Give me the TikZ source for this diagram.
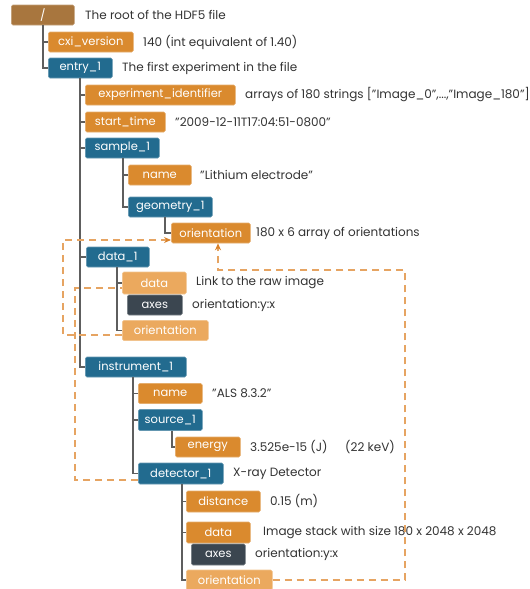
\documentclass[tikz,border=0pt]{standalone}
\usepackage{fontspec}
\setmainfont{Poppins}
\usetikzlibrary{arrows.meta,calc}
\definecolor{cbrown}{HTML}{A8763E}
\definecolor{corange}{HTML}{DA8A2E}
\definecolor{cblue}{HTML}{226B8F}
\definecolor{clight}{HTML}{EBA95E}
\definecolor{cdark}{HTML}{3B4650}
\definecolor{ctext}{HTML}{333333}
\definecolor{cline}{HTML}{5E5E5E}
\definecolor{cdash}{HTML}{E6A462}
\definecolor{carrow}{HTML}{D9822B}
\begin{document}
\begin{tikzpicture}[x=1pt,y=-1pt,
  box/.style={anchor=west,minimum height=20pt,inner sep=0pt,rounded corners=1.5pt,
    text=white,font=\fontsize{11.5}{12}\selectfont,line width=0.6pt},
  brownbox/.style={box,fill=cbrown,draw=cbrown!70!white},
  orbox/.style={box,fill=corange,draw=corange!70!white},
  bluebox/.style={box,fill=cblue,draw=cblue!70!white},
  ltbox/.style={box,fill=clight,draw=clight!70!white},
  dkbox/.style={box,fill=cdark,draw=cdark!70!white},
  desc/.style={anchor=west,inner sep=0pt,text=ctext,font=\fontsize{12}{13}\selectfont},
  tree/.style={draw=cline,line width=1.1pt},
  link/.style={draw=cdash,line width=1.3pt,dash pattern=on 7pt off 5pt},
  tip/.style={-{Stealth[length=7pt,width=6pt,color=carrow]}}
]
\useasboundingbox (0,0) rectangle (530,589);
% nodes
\node[brownbox,minimum width=63pt] (root) at (11,15) {/};
\node[desc] (droot) at (85,15) {The root of the HDF5 file};
\node[orbox,minimum width=85pt] (cxi) at (48,42) {cxi\_version};
\node[desc] (dcxi) at (143,42) {140 (int equivalent of 1.40)};
\node[bluebox,minimum width=64pt] (entry) at (48,68) {entry\_1};
\node[desc] (dentry) at (122,68) {The first experiment in the file};
\node[orbox,minimum width=150pt] (expid) at (85,95) {experiment\_identifier};
\node[desc] (dexpid) at (245,95) {arrays of 180 strings ["Image\_0",...,"Image\_180"]};
\node[orbox,minimum width=80pt] (start) at (85,122) {start\_time};
\node[desc] (dstart) at (175,122) {"2009-12-11T17:04:51-0800"};
\node[bluebox,minimum width=74pt] (sample) at (85,148) {sample\_1};
\node[orbox,minimum width=63pt] (sname) at (128,175) {name};
\node[desc] (dsname) at (200,175) {"Lithium electrode"};
\node[bluebox,minimum width=84pt] (geom) at (128,207) {geometry\_1};
\node[orbox,minimum width=79pt] (sorient) at (171,233) {orientation};
\node[desc] (dsorient) at (256,233) {180 x 6 array of orientations};
\node[bluebox,minimum width=63pt] (data1) at (86,257) {data\_1};
\node[ltbox,minimum width=64pt,minimum height=22pt] (ddata) at (122,283) {data};
\node[desc] (dddata) at (196,283) {Link to the raw image};
\node[dkbox,minimum width=55pt] (daxes) at (127,305) {axes};
\node[desc] (ddaxes) at (192,305) {orientation:y:x};
\node[ltbox,minimum width=86pt] (dorient) at (122,330.5) {orientation};
\node[bluebox,minimum width=101pt] (instr) at (85,367) {instrument\_1};
\node[orbox,minimum width=64pt] (iname) at (138,393.5) {name};
\node[desc] (diname) at (212,393.5) {"ALS 8.3.2"};
\node[bluebox,minimum width=64pt,minimum height=21pt] (source) at (138,420) {source\_1};
\node[orbox,minimum width=65pt] (energy) at (175,447) {energy};
\node[desc] (denergy) at (250,447) {3.525e-15 (J)};
\node[desc] (denergy2) at (345,447) {(22 keV)};
\node[bluebox,minimum width=85pt,minimum height=21pt] (detector) at (138,473.5) {detector\_1};
\node[desc] (ddetector) at (233,473.5) {X-ray Detector};
\node[orbox,minimum width=74pt,minimum height=21pt] (distance) at (186,501.5) {distance};
\node[desc] (ddistance) at (270,501.5) {0.15 (m)};
\node[orbox,minimum width=64pt,minimum height=21pt] (tdata) at (186,532.5) {data};
\node[desc] (dtdata) at (263,532.5) {Image stack with size 180 x 2048 x 2048};
\node[dkbox,minimum width=54pt,minimum height=21pt] (taxes) at (191,554.5) {axes};
\node[desc] (dtaxes) at (255,554.5) {orientation:y:x};
\node[ltbox,minimum width=86pt] (torient) at (186,580) {orientation};
% tree lines
\draw[tree] ([xshift=32pt]root.south west) |- (cxi.west);
\draw[tree] ([xshift=32pt]root.south west) |- (entry.west);
\draw[tree] ([xshift=32pt]entry.south west) |- (expid.west);
\draw[tree] ([xshift=32pt]entry.south west) |- (start.west);
\draw[tree] ([xshift=32pt]entry.south west) |- (sample.west);
\draw[tree] ([xshift=32pt]entry.south west) |- (data1.west);
\draw[tree] ([xshift=32pt]entry.south west) |- (instr.west);
\draw[tree] ([xshift=38pt]sample.south west) |- (sname.west);
\draw[tree] ([xshift=38pt]sample.south west) |- (geom.west);
\draw[tree] ([xshift=37pt]geom.south west) |- (sorient.west);
\draw[tree] ([xshift=31pt]data1.south west) |- (ddata.west);
\draw[tree] ([xshift=31pt]data1.south west) |- (dorient.west);
\draw[tree] ([xshift=48pt]instr.south west) |- (iname.west);
\draw[tree] ([xshift=48pt]instr.south west) |- (source.west);
\draw[tree] ([xshift=48pt]instr.south west) |- (detector.west);
\draw[tree] ([xshift=34pt]source.south west) |- (energy.west);
\draw[tree] ([xshift=44pt]detector.south west) |- (distance.west);
\draw[tree] ([xshift=44pt]detector.south west) |- (tdata.west);
\draw[tree] ([xshift=44pt]detector.south west) |- (torient.west);
% links
\coordinate (l1) at (63,240);
\coordinate (l2) at (75,288);
\coordinate (l3) at (405,270);
\draw[link,tip] ([yshift=-4.5pt]dorient.west) -| (l1) -- ([yshift=-7pt]sorient.west);
\draw[link] ([yshift=-6.5pt]detector.west) -| (l2) -- ([yshift=-5pt]ddata.west);
\draw[link,tip] (torient.east) -| (l3) -| ([xshift=47pt]sorient.south west);
\end{tikzpicture}
\end{document}
